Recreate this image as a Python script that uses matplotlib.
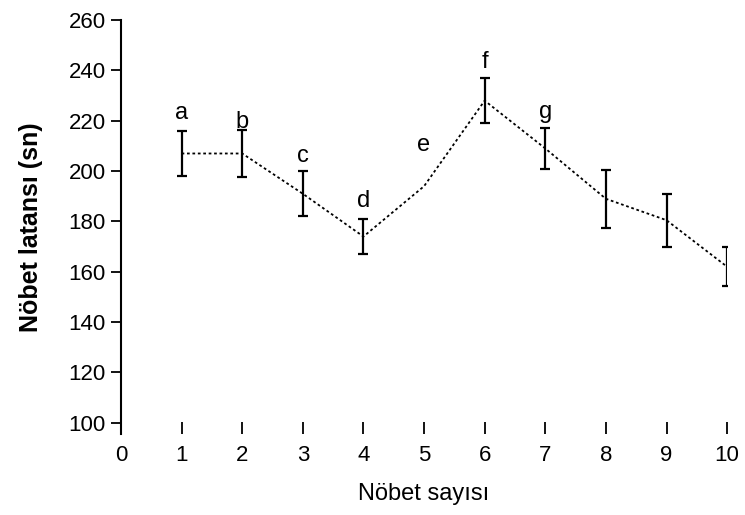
import numpy as np
import matplotlib.pyplot as plt

plt.rcParams['font.family'] = ['Liberation Sans', 'DejaVu Sans']

nobet = [1, 2, 3, 4, 5, 6, 7, 8, 9, 10]
latans = [207, 207, 191, 174, 194, 228, 209, 189, 180.5, 162]
# 5. nöbette hata çubuğu yok
hata = [9, 9.5, 9, 7, np.nan, 9, 8, 11.5, 10.5, 7.7]

harfler = ['a', 'b', 'c', 'd', 'e', 'f', 'g']
harf_y = [223, 219.5, 206, 188, 210.5, 243.5, 223.5]

fig = plt.figure(figsize=(7.45, 5.15), dpi=100)
ax = fig.add_axes([0.1624, 0.157, 0.8136, 0.804])

ax.plot(nobet, latans, color='k', linestyle=(0, (1.5, 1.5)), linewidth=1.3)
ax.errorbar(nobet, latans, yerr=hata, fmt='none', ecolor='k',
            elinewidth=1.6, capsize=3.6, capthick=1.6)

for i, h in enumerate(harfler):
    ax.text(nobet[i], harf_y[i], h, ha='center', va='center', fontsize=17)

ax.set_xlim(0, 10)
ax.set_ylim(95.5, 260)
ax.set_xticks(np.arange(0, 11, 1))
ax.set_yticks(np.arange(100, 261, 20))

ax.spines['top'].set_visible(False)
ax.spines['right'].set_visible(False)
ax.spines['bottom'].set_visible(False)
ax.spines['left'].set_linewidth(1.5)
ax.spines['left'].set_bounds(95.5, 260)

ax.tick_params(axis='y', direction='out', length=7.5, width=1.3, pad=3.5, labelsize=16)
ax.tick_params(axis='x', direction='in', length=8.5, width=1.3, pad=8, labelsize=16)

ax.set_xlabel('Nöbet sayısı', fontsize=17, labelpad=12)
ax.set_ylabel('Nöbet latansı (sn)', fontsize=18, fontweight='bold', labelpad=18)

fig.savefig('out.png', dpi=100)
